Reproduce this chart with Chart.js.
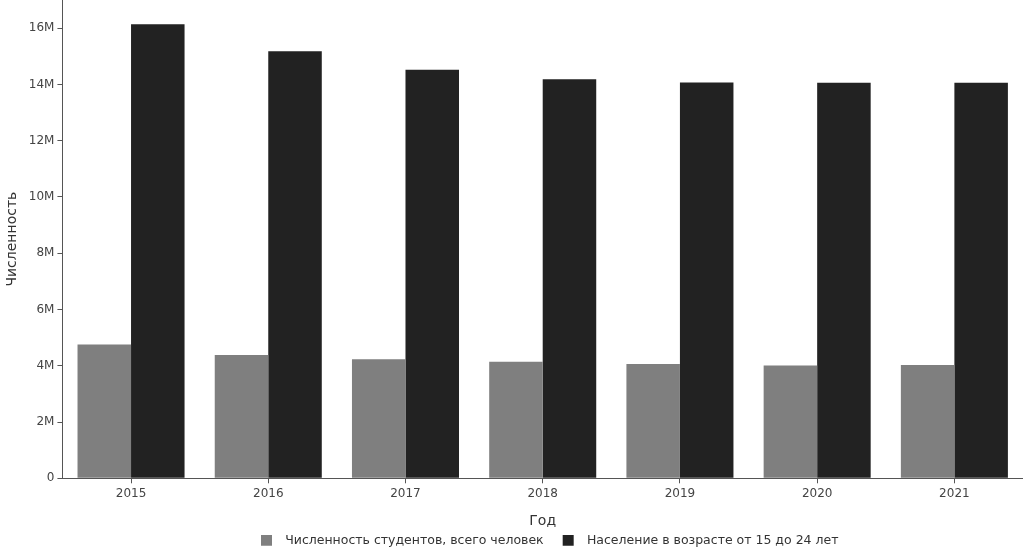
<!DOCTYPE html>
<html>
<head>
<meta charset="utf-8">
<script src="https://cdn.jsdelivr.net/npm/chart.js@4/dist/chart.umd.min.js"></script>
<style>
  html, body { margin: 0; padding: 0; background: #fff; }
  #wrap { width: 1023px; height: 557px; }
</style>
</head>
<body>
<div id="wrap"><canvas id="bar-chart"></canvas></div>
<script>
const years = ['2015', '2016', '2017', '2018', '2019', '2020', '2021'];
const students = [4760000, 4380000, 4230000, 4140000, 4060000, 4010000, 4030000];
const youth = [16140000, 15180000, 14520000, 14180000, 14070000, 14060000, 14060000];
const yTicks = [0, 2000000, 4000000, 6000000, 8000000, 10000000, 12000000, 14000000, 16000000];

const seriesColors = ['#7f7f7f', '#222222'];

Chart.defaults.font.family = '"DejaVu Sans", Verdana, sans-serif';
Chart.defaults.color = '#444';

// legend swatch: small square with some blank room around it
function swatch(color) {
    const c = document.createElement('canvas');
    c.width = 32;
    c.height = 12;
    const g = c.getContext('2d');
    g.fillStyle = color;
    g.fillRect(14, 0, 11, 11);
    return c;
}

const ctx = document.getElementById('bar-chart');

new Chart(ctx, {
    type: 'bar',
    data: {
        labels: years,
        datasets: [{
            label: 'Численность студентов, всего человек',
            data: students,
            backgroundColor: seriesColors[0],
            borderWidth: 0
        }, {
            label: 'Население в возрасте от 15 до 24 лет',
            data: youth,
            backgroundColor: seriesColors[1],
            borderWidth: 0
        }]
    },
    options: {
        responsive: true,
        maintainAspectRatio: false,
        animation: false,
        categoryPercentage: 0.78,
        barPercentage: 1.0,
        layout: {
            padding: { top: 0, right: 0, left: 0, bottom: 0 }
        },
        scales: {
            x: {
                grid: {
                    display: true,
                    offset: false,
                    drawOnChartArea: false,
                    drawTicks: true,
                    tickLength: 5,
                    color: '#555'
                },
                border: { display: true, color: '#555', width: 1 },
                ticks: { font: { size: 12 }, padding: 3, color: '#444' },
                title: {
                    display: true,
                    text: 'Год',
                    font: { size: 14 },
                    color: '#333',
                    padding: { top: 9, bottom: 0 }
                }
            },
            y: {
                min: 0,
                max: 17000000,
                afterBuildTicks: (scale) => {
                    scale.ticks = yTicks.map(v => ({ value: v }));
                },
                afterFit: (scale) => {
                    scale.paddingTop = 0;
                    scale.paddingBottom = 0;
                },
                grid: {
                    display: true,
                    drawOnChartArea: false,
                    drawTicks: true,
                    tickLength: 5,
                    color: '#555'
                },
                border: { display: true, color: '#555', width: 1 },
                ticks: {
                    font: { size: 12 },
                    padding: 3,
                    color: '#444',
                    callback: (value) => value === 0 ? '0' : (value / 1000000) + 'M'
                },
                title: {
                    display: true,
                    text: 'Численность',
                    font: { size: 14 },
                    color: '#333',
                    padding: { top: 4, bottom: 5 }
                }
            }
        },
        plugins: {
            legend: {
                position: 'bottom',
                fullSize: false,
                labels: {
                    usePointStyle: true,
                    pointStyleWidth: 32,
                    padding: 5,
                    font: { size: 12.5 },
                    color: '#333',
                    generateLabels: (chart) => {
                        const items = Chart.defaults.plugins.legend.labels.generateLabels(chart);
                        items.forEach((it, i) => { it.pointStyle = swatch(seriesColors[i]); });
                        return items;
                    }
                }
            },
            tooltip: { enabled: false }
        }
    }
});
</script>
</body>
</html>
